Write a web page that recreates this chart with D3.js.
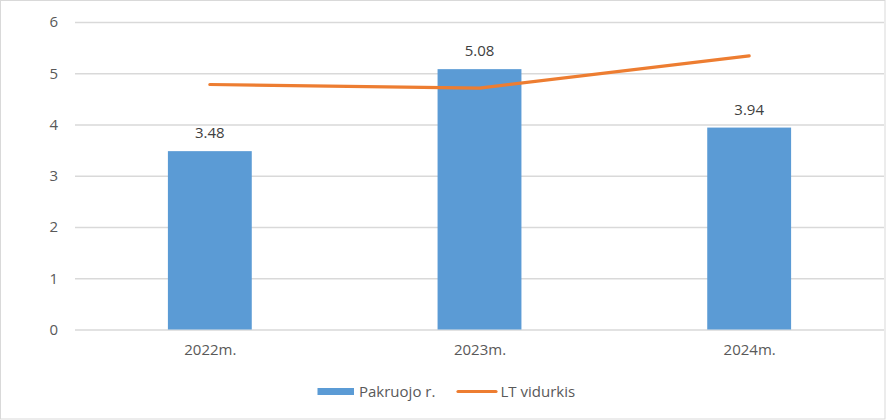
<!DOCTYPE html>
<html><head><meta charset="utf-8">
<script src="https://cdn.jsdelivr.net/npm/d3@7"></script>
<style>html,body{margin:0;padding:0;background:#fff;}svg{display:block;}</style>
</head><body>
<svg id="c" width="886" height="420"></svg>
<script>
const categories = ["2022m.", "2023m.", "2024m."];
const pakruojo = [3.48, 5.08, 3.94];
const ltVidurkis = [4.78, 4.71, 5.34];
const yTicks = [0, 1, 2, 3, 4, 5, 6];
const seriesNames = ["Pakruojo r.", "LT vidurkis"];

const svg = d3.select("#c");
const font = "'Open Sans', 'Liberation Sans', Arial, sans-serif";
const W = 886, H = 420;
const m = {left: 75, right: 2, top: 22, bottom: 90.5};

svg.append("rect").attr("x", 0.5).attr("y", 0.5).attr("width", W - 1.5).attr("height", H - 1.5)
  .attr("fill", "#fff").attr("stroke", "#d9d9d9").attr("stroke-width", 1);

const x = d3.scaleBand().domain(categories).range([m.left, W - m.right]).paddingInner(0.689).paddingOuter(0.3445);
const xc = d3.scalePoint().domain(categories).range([m.left, W - m.right]).padding(0.5);
const y = d3.scaleLinear().domain([0, 6]).range([H - m.bottom, m.top]);

// gridlines
const yAxis = d3.axisLeft(y).tickValues(yTicks).tickSize(-(W - m.right - m.left)).tickPadding(17).tickFormat(d3.format("d"));
const gy = svg.append("g").attr("transform", `translate(${m.left},0)`).call(yAxis);
gy.select(".domain").remove();
gy.selectAll(".tick line").attr("stroke", "#d9d9d9").attr("stroke-width", 1.3);
gy.selectAll(".tick text").attr("fill", "#595959").attr("font-size", 15).attr("font-family", font);

// x axis
const xAxis = d3.axisBottom(xc).tickSize(0).tickPadding(15);
const gx = svg.append("g").attr("transform", `translate(0,${y(0)})`).call(xAxis);
gx.select(".domain").remove();
gx.selectAll(".tick text").attr("fill", "#595959").attr("font-size", 15).attr("font-family", font);

// bars
svg.append("g").selectAll("rect").data(pakruojo).join("rect")
  .attr("x", (d, i) => x(categories[i]))
  .attr("width", x.bandwidth())
  .attr("y", d => y(d))
  .attr("height", d => y(0) - y(d))
  .attr("fill", "#5b9bd5");

// bar labels
svg.append("g").selectAll("text").data(pakruojo).join("text")
  .attr("x", (d, i) => xc(categories[i]))
  .attr("y", d => y(d) - 13)
  .attr("text-anchor", "middle")
  .attr("fill", "#404040").attr("font-size", 15).attr("font-family", font)
  .text(d => d.toFixed(2));

// line
const line = d3.line().x((d, i) => xc(categories[i])).y(d => y(d));
svg.append("path").datum(ltVidurkis).attr("d", line)
  .attr("fill", "none").attr("stroke", "#ed7d31").attr("stroke-width", 3.2)
  .attr("stroke-linecap", "round").attr("stroke-linejoin", "round");

// legend
const lg = svg.append("g");
lg.append("rect").attr("x", 317.5).attr("y", 388).attr("width", 36.5).attr("height", 7).attr("fill", "#5b9bd5");
lg.append("text").attr("x", 359).attr("y", 396.5).attr("fill", "#595959").attr("font-size", 15).attr("font-family", font).text(seriesNames[0]);
lg.append("line").attr("x1", 458).attr("x2", 496).attr("y1", 391.5).attr("y2", 391.5)
  .attr("stroke", "#ed7d31").attr("stroke-width", 3.2).attr("stroke-linecap", "round");
lg.append("text").attr("x", 500.5).attr("y", 396.5).attr("fill", "#595959").attr("font-size", 15).attr("font-family", font).text(seriesNames[1]);
</script>
</body></html>
